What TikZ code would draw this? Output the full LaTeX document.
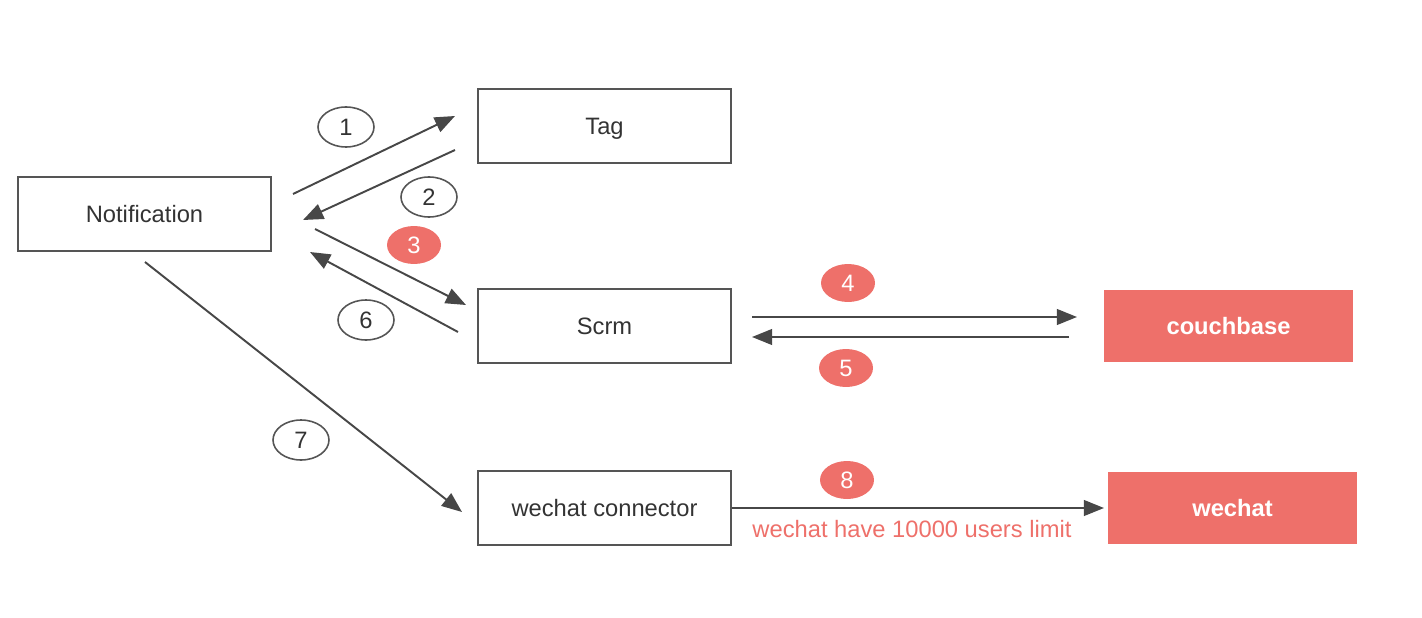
\documentclass[tikz,border=0pt]{standalone}
\usepackage{fontspec}
\setmainfont{Liberation Sans}
\usetikzlibrary{arrows.meta,shapes.geometric}
\definecolor{alertred}{RGB}{238,112,106}
\definecolor{linegray}{RGB}{85,85,85}
\definecolor{textgray}{RGB}{51,51,51}

\begin{document}
\begin{tikzpicture}[x=0.02cm,y=-0.02cm,
                    font=\fontsize{13.5}{16}\selectfont,text=textgray,
                    flow/.style={-{Triangle[length=11.5pt,width=9pt]},line width=1.1pt,draw=textgray!90},
                    svc/.style={draw=linegray,line width=1.1pt,minimum width=5.06cm,minimum height=1.48cm,
                                text height=9.7pt,text depth=0pt},
                    ext/.style={fill=alertred,text=white,font=\fontsize{13.5}{16}\selectfont\bfseries,
                                minimum width=4.98cm,minimum height=1.44cm,text height=9.7pt,text depth=0pt},
                    num/.style={ellipse,draw=linegray,line width=0.9pt,minimum width=1.12cm,minimum height=0.8cm,inner sep=0pt},
                    hot/.style={ellipse,fill=alertred,text=white,minimum width=1.08cm,minimum height=0.76cm,inner sep=0pt}]

  \useasboundingbox (0,0) rectangle (1422,618);

  % services
  \node[svc] (notif)   at (144.5,214) {Notification};
  \node[svc] (tag)     at (604.5,126) {Tag};
  \node[svc] (scrm)    at (604.5,326) {Scrm};
  \node[svc] (connect) at (604.5,508) {wechat connector};

  % external systems
  \node[ext] (couch)  at (1228.5,326) {couchbase};
  \node[ext] (wechat) at (1232.5,508) {wechat};

  % free ends of the connectors
  \coordinate (n1) at (293,194);  \coordinate (t1) at (455,116);
  \coordinate (t2) at (455,150);  \coordinate (n2) at (303,220);
  \coordinate (n3) at (315,229);  \coordinate (s3) at (466,305);
  \coordinate (s6) at (458,332);  \coordinate (n6) at (310,252);
  \coordinate (s4) at (752,317);  \coordinate (c4) at (1077,317);
  \coordinate (c5) at (1069,337); \coordinate (s5) at (752,337);
  \coordinate (n7) at (145,262);  \coordinate (w7) at (462,512);
  \coordinate (w8) at (1104,508);

  \draw[flow] (n1) -- (t1);
  \draw[flow] (t2) -- (n2);
  \draw[flow] (n3) -- (s3);
  \draw[flow] (s6) -- (n6);
  \draw[flow] (s4) -- (c4);
  \draw[flow] (c5) -- (s5);
  \draw[flow] (n7) -- (w7);
  \draw[flow] (connect.east) -- (w8);

  % step numbers
  \node[num] (l1) at (346,127) {1};
  \node[num] (l2) at (429,197) {2};
  \node[hot] (l3) at (414,245) {3};
  \node[hot] (l4) at (848,283) {4};
  \node[hot] (l5) at (846,368) {5};
  \node[num] (l6) at (366,320) {6};
  \node[num] (l7) at (301,440) {7};
  \node[hot] (l8) at (847,480) {8};

  \node[text=alertred] (limit) at (912,529) {wechat have 10000 users limit};
\end{tikzpicture}
\end{document}
